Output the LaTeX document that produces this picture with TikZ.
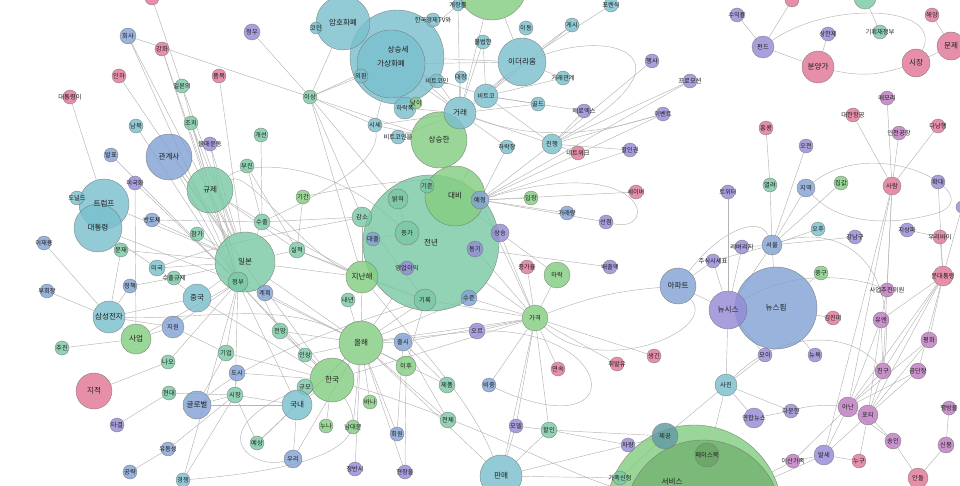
\documentclass[tikz,border=0pt]{standalone}
\usepackage{fontspec}
\newfontfamily\kfont{Noto Sans CJK KR}
\pgfdeclarelayer{background}
\pgfdeclarelayer{labels}
\pgfsetlayers{background,main,labels}
\definecolor{cteal}{RGB}{122,192,205}
\definecolor{cgreen}{RGB}{132,205,128}
\definecolor{csea}{RGB}{122,200,165}
\definecolor{cblue}{RGB}{130,162,212}
\definecolor{cpurple}{RGB}{150,138,214}
\definecolor{cpink}{RGB}{226,118,150}
\definecolor{corchid}{RGB}{190,122,192}
\definecolor{cedge}{RGB}{180,180,180}
\tikzset{
  nd/.style={circle, draw=black!55, line width=0.35pt, fill opacity=0.82, draw opacity=0.9, inner sep=0pt},
  ed/.style={draw=cedge, line width=0.45pt},
  txt/.style={inner sep=0pt, text=black!88}
}
\newcommand{\smallf}{\kfont\fontsize{6.3}{7}\selectfont}
\newcommand{\bigf}{\kfont\fontsize{7.6}{8}\selectfont}
\newcommand{\ND}[6]{%
  \ifnum#4>13\relax\def\myfs{\bigf}\else\def\myfs{\smallf}\fi
  \node[nd, fill=#5, minimum size=2*#4pt] (#1) at (#2,#3) {};
  \begin{pgfonlayer}{labels}\node[txt, font=\myfs] (#1t) at (#1) {#6};\end{pgfonlayer}}
\begin{document}
\begin{tikzpicture}[x=1pt,y=-1pt]
\useasboundingbox (0,0) rectangle (960,486);
% ---------- big nodes first
\ND{big1}{694}{513}{88}{cgreen}{}
\ND{service}{703}{518}{78}{cgreen!88!black}{}
\ND{jeonnyeon}{431}{243}{68}{csea}{전년}
\ND{daebi}{455}{196}{30}{cgreen}{대비}
\ND{sangseung}{397}{57}{47}{cteal}{}
\ND{gasang}{391}{64}{34}{cteal}{가상화폐}
\begin{pgfonlayer}{labels}\node[txt, font=\bigf] (sangseungt) at (398,50) {상승세};\end{pgfonlayer}
\ND{amho}{343}{23}{27}{cteal}{암호화폐}
\ND{topgreen}{492}{-15}{35}{cgreen}{}
\ND{newsspim}{776}{308}{41}{cblue}{뉴스핌}
\ND{newsis}{728}{310}{19}{cpurple}{뉴시스}
\ND{ilbon}{245}{262}{30}{csea}{일본}
\ND{trump}{104}{204}{25}{cteal}{트럼프}
\ND{daetong}{98}{228}{24}{cteal}{대통령}
% ---------- left
\ND{topA}{152}{-2}{7}{cpink}{}
\ND{hoesa}{128}{36}{8}{cblue}{회사}
\ND{ganghwa}{162}{49}{7}{cpink}{강화}
\ND{inha}{119}{76}{7}{cpink}{인하}
\ND{pummok}{219}{76}{7}{cpink}{품목}
\ND{daetongi}{70}{97}{7}{cpink}{대통령이}
\ND{ilbonui}{182}{86}{7}{csea}{일본의}
\ND{jochi}{191}{123}{7}{csea}{조치}
\ND{bulmae}{210}{144}{7}{cpurple}{불매운동}
\ND{nambuk}{136}{126}{7}{cteal}{남북}
\ND{gwangye}{169}{157}{23}{cblue}{관계사}
\ND{balpyo}{111}{155}{7}{cblue}{발표}
\ND{gyuje}{210}{190}{23}{csea}{규제}
\ND{migukhwa}{135}{183}{7}{cpurple}{미국화}
\ND{donald}{77}{198}{7}{cteal}{도널드}
\ND{bando}{152}{220}{7}{cblue}{반도체}
\ND{chamga}{197}{234}{7}{csea}{참가}
\ND{ijy}{44}{243}{7}{cblue}{이재용}
\ND{munjae}{121}{250}{7}{csea}{문재}
\ND{miguk}{157}{268}{8}{cteal}{미국}
\ND{suchulgj}{174}{278}{7}{csea}{수출규제}
\ND{buhoe}{47}{291}{7}{cblue}{부회장}
\ND{jeongchaek}{130}{286}{7}{cblue}{정책}
\ND{jungguk}{197}{298}{14}{cteal}{중국}
\ND{samsung}{109}{317}{16}{cteal}{삼성전자}
\ND{jiwon}{173}{327}{11}{cblue}{지원}
\ND{saeop}{136}{339}{15}{cgreen}{사업}
\ND{chujin}{62}{348}{7}{csea}{추진}
\ND{gieop}{226}{353}{8}{csea}{기업}
\ND{nao}{168}{362}{7}{csea}{나오}
\ND{dosi}{237}{373}{8}{cblue}{도시}
\ND{jijeok}{94}{391}{18}{cpink}{지적}
\ND{hyundai}{169}{393}{7}{csea}{현대}
\ND{sijang}{235}{395}{8}{csea}{시장}
\ND{global}{197}{405}{14}{cblue}{글로벌}
\ND{tagyeol}{117}{425}{7}{cpurple}{타결}
\ND{yudong}{168}{449}{7}{cblue}{유동성}
\ND{gongryak}{130}{472}{7}{cblue}{공략}
\ND{gyeongjaeng}{183}{480}{7}{cteal}{경쟁}
% ---------- Japan / center-left
\ND{jeongbu}{238}{282}{10}{csea}{정부}
\ND{gyehoek}{265}{293}{8}{cblue}{계획}
\ND{siljeok}{297}{250}{8}{csea}{실적}
\ND{suchul}{262}{222}{8}{csea}{수출}
\ND{gigan}{303}{197}{7}{cgreen}{기간}
\ND{gaeseon}{261}{135}{7}{csea}{개선}
\ND{bujin}{247}{166}{7}{csea}{부진}
\ND{jeonmang}{280}{331}{8}{csea}{전망}
\ND{insang}{305}{355}{7}{csea}{인상}
\ND{hanguk}{332}{380}{22}{cgreen}{한국}
\ND{olhae}{361}{343}{22}{cgreen}{올해}
\ND{gyumo}{305}{387}{8}{csea}{규모}
\ND{guknae}{297}{405}{15}{cteal}{국내}
\ND{yesang}{257}{443}{7}{csea}{예상}
\ND{uri}{293}{459}{9}{cblue}{우리}
\ND{nuna}{326}{426}{7}{cgreen}{누나}
\ND{namdae}{353}{427}{7}{cgreen}{남대문}
\ND{bana}{370}{402}{7}{cgreen}{바나}
\ND{hoewon}{397}{434}{7}{cblue}{회원}
\ND{jeongban}{355}{469}{7}{cpurple}{정반시}
\ND{hyeonjang}{405}{472}{7}{cpurple}{현장을}
\ND{jepum}{447}{385}{8}{csea}{제품}
\ND{jeonche}{448}{420}{8}{csea}{전체}
\ND{chulsi}{403}{342}{9}{cblue}{출시}
\ND{ihu}{406}{366}{10}{cgreen}{이후}
\ND{naenyeon}{348}{300}{7}{csea}{내년}
\ND{jinan}{362}{277}{16}{cgreen}{지난해}
% ---------- crypto
\ND{cheongu}{252}{32}{8}{cpurple}{청우}
\ND{coin}{316}{28}{6}{cteal}{코인}
\ND{hkTV}{433}{20}{7}{cteal}{한국경제TV와}
\ND{gyejang}{458}{5}{6}{cteal}{계장률}
\ND{oehwan}{361}{76}{7}{cteal}{외환}
\ND{btcoin}{437}{81}{7}{cteal}{비트코인}
\ND{daejang}{461}{77}{6}{cteal}{대장}
\ND{isang}{310}{97}{7}{csea}{이상}
\ND{harakpok}{405}{108}{11}{cteal}{하락폭}
\ND{nachi}{416}{103}{6}{cgreen}{낮이}
\ND{sangseunghan}{439}{140}{28}{cgreen}{상승한}
\ND{georae}{460}{113}{16}{cteal}{거래}
\ND{sise}{375}{125}{7}{cteal}{시세}
\ND{btceul}{398}{137}{7}{cteal}{비트코인을}
\ND{bulbeop}{483}{42}{7}{cteal}{불법한}
\ND{idong}{526}{28}{7}{cteal}{이동}
\ND{gesi}{572}{25}{7}{cteal}{게시}
\ND{poren}{611}{5}{7}{cteal}{포렌식}
\ND{ether}{522}{62}{24}{cteal}{이더리움}
\ND{georaegw}{563}{78}{7}{cteal}{거래관계}
\ND{bitco}{486}{96}{12}{cteal}{비트코}
\ND{gold}{538}{104}{7}{cteal}{골드}
\ND{zerox}{584}{111}{7}{cpurple}{제로엑스}
\ND{haengsa}{652}{61}{7}{cpurple}{행사}
\ND{promo}{690}{81}{7}{cpurple}{프로모션}
\ND{event}{663}{114}{7}{cpurple}{이벤트}
\ND{harakjang}{507}{147}{7}{cteal}{하락장}
\ND{jinhaeng}{552}{144}{10}{cteal}{진행}
\ND{network}{578}{153}{7}{cpink}{네트워크}
\ND{halingwon}{630}{150}{7}{cpurple}{할인권}
\ND{saver}{636}{192}{7}{cpink}{세이버}
\ND{ipjang}{531}{198}{7}{cgreen}{입장}
\ND{georaeryang}{567}{213}{7}{cblue}{거래량}
\ND{seonjeom}{606}{222}{7}{cpurple}{선점}
% ---------- center
\ND{gijun}{427}{186}{7}{csea}{기준}
\ND{balkhyeo}{398}{199}{10}{csea}{밝혀}
\ND{yejeong}{480}{200}{9}{cblue}{예정}
\ND{gamso}{362}{217}{10}{csea}{감소}
\ND{daechul}{373}{239}{7}{cblue}{대출}
\ND{jeungga}{407}{233}{12}{csea}{증가}
\ND{sangseung2}{500}{233}{9}{cpurple}{상승}
\ND{donggi}{475}{249}{8}{cpurple}{동기}
\ND{yeongeop}{407}{268}{7}{cpurple}{영업이익}
\ND{jeunggayul}{527}{267}{7}{cpink}{증가율}
\ND{harak}{557}{275}{13}{cgreen}{하락}
\ND{girok}{425}{300}{11}{csea}{기록}
\ND{sujun}{469}{298}{8}{cblue}{수준}
\ND{oreu}{477}{331}{8}{cpurple}{오르}
\ND{gagyeok}{535}{318}{13}{cgreen}{가격}
\ND{baechul}{610}{267}{7}{cpurple}{배출액}
\ND{apt}{678}{286}{18}{cblue}{아파트}
\ND{hwibal}{617}{364}{7}{cpink}{휘발유}
\ND{saenggin}{654}{356}{7}{cpink}{생긴}
\ND{yeonsok}{558}{369}{7}{cpink}{연속}
\ND{bijung}{489}{385}{7}{cblue}{비중}
\ND{model}{516}{426}{7}{cpurple}{모델}
\ND{halin}{549}{430}{8}{csea}{할인}
\ND{panmae}{501}{476}{21}{cteal}{판매}
\ND{jegong}{665}{436}{13}{cteal!80!black}{제공}
\ND{facebook}{707}{455}{12}{cgreen!80!black}{페이스북}
\ND{chaRyang}{628}{445}{7}{cpurple}{차량}
\ND{gajok}{620}{478}{7}{csea}{가족신청}
\begin{pgfonlayer}{labels}\node[txt, font=\bigf] (svclabel) at (672,482) {서비스};\end{pgfonlayer}
% ---------- right
\ND{topPink2}{792}{0}{7}{cpink}{}
\ND{topGreen2}{865}{-2}{11}{csea}{}
\ND{suikryul}{737}{15}{7}{cpurple}{수익률}
\ND{haeyang}{932}{15}{7}{cpink}{해양}
\ND{fund}{763}{47}{11}{cpurple}{펀드}
\ND{sanghan}{828}{34}{7}{cpurple}{상한제}
\ND{gihoek}{880}{32}{7}{csea}{기획재정부}
\ND{bunyang}{818}{67}{16}{cpink}{분양가}
\ND{sijang2}{916}{63}{14}{cpink}{시장}
\ND{munje}{951}{46}{14}{cpink}{문제}
\ND{memori}{887}{98}{7}{corchid}{메모리}
\ND{daehan}{853}{115}{7}{cpink}{대한항공}
\ND{hongkong}{766}{128}{7}{cpink}{홍콩}
\ND{incheon}{899}{133}{7}{corchid}{인천공항}
\ND{danang}{938}{126}{7}{cpink}{다낭행}
\ND{ojeon}{806}{146}{7}{cpurple}{오전}
\ND{hwakdae}{938}{182}{7}{cpurple}{확대}
\ND{yeollyeo}{770}{185}{7}{csea}{열려}
\ND{jiyeok}{806}{188}{9}{cblue}{지역}
\ND{jipgap}{841}{183}{7}{cgreen}{집값}
\ND{saram}{892}{186}{9}{cpink}{사람}
\ND{twitter}{728}{192}{7}{cpurple}{트위터}
\ND{ohu}{818}{229}{7}{cteal}{오후}
\ND{gangnam}{855}{237}{7}{cpurple}{강남구}
\ND{jisangpa}{907}{230}{7}{cpurple}{지상파}
\ND{uribai}{940}{237}{7}{cpink}{우리바이}
\ND{rightP}{962}{207}{6}{cpurple}{}
\ND{seoul}{772}{245}{10}{cblue}{서울}
\ND{leverage}{742}{247}{7}{cpurple}{레버리지}
\ND{jusik}{713}{261}{7}{cpurple}{주식시세표}
\ND{junggu}{821}{273}{7}{cgreen}{중구}
\ND{saeopchu}{887}{290}{7}{corchid}{사업추진위원}
\ND{munpres}{943}{276}{10}{cpink}{문대통령}
\ND{gimjin}{833}{318}{7}{cpink}{김진미}
\ND{un}{881}{320}{8}{corchid}{유엔}
\ND{pyeonghwa}{929}{340}{8}{corchid}{평화}
\ND{moi}{765}{355}{7}{cpurple}{모이}
\ND{newyork}{815}{355}{7}{cpurple}{뉴욕}
\ND{chingu}{883}{371}{8}{corchid}{친구}
\ND{gongdan}{918}{371}{8}{corchid}{공단장}
\ND{sajin}{726}{385}{11}{cteal}{사진}
\ND{anan}{848}{407}{10}{corchid}{아난}
\ND{poti}{868}{415}{10}{corchid}{포티}
\ND{daun}{791}{411}{7}{cpurple}{다운한}
\ND{yeonhap}{754}{418}{10}{cpurple}{연합뉴스}
\ND{songin}{893}{441}{8}{corchid}{송인}
\ND{sinbong}{946}{445}{8}{corchid}{신봉}
\ND{haengbang}{949}{408}{7}{corchid}{행방불}
\ND{isan}{793}{461}{7}{corchid}{이산가족}
\ND{balse}{824}{455}{10}{cpurple}{발세}
\ND{nugu}{859}{461}{7}{cpink}{누구}
\ND{andol}{918}{478}{10}{cpink}{안돌}
% ---------- edges
\begin{pgfonlayer}{background}
\foreach \a/\b in {hoesa/jeongbu, hoesa/ilbon, ganghwa/jeongbu, ganghwa/gyuje, topA/ilbonui, inha/ilbon, pummok/ilbon, daetongi/trump, ilbonui/ilbon, ilbonui/gyuje, jochi/ilbon, jochi/jeongbu, bulmae/ilbon, bulmae/jeongbu, nambuk/jeongbu, gwangye/ilbon, gwangye/jeongbu, gwangye/gyehoek, balpyo/jeongbu, gyuje/ilbon, gyuje/jeongbu, gyuje/suchul, gyuje/siljeok, migukhwa/saeop, migukhwa/jeongbu, donald/trump, trump/daetong, trump/ilbon, daetong/miguk, daetong/munjae, daetong/jeongbu, bando/suchul, bando/ilbon, chamga/ilbon, ijy/samsung, munjae/samsung, munjae/ilbon, buhoe/samsung, jeongchaek/suchulgj, jeongchaek/samsung, miguk/ilbon, miguk/jungguk, suchulgj/ilbon, jungguk/ilbon, jungguk/hanguk, jungguk/samsung, samsung/saeop, samsung/jiwon, jiwon/saeop, jiwon/jeongbu, jiwon/gieop, saeop/chujin, saeop/jeongbu, gieop/jeongbu, gieop/global, gieop/hanguk, nao/jijeok, nao/jeongbu, dosi/hanguk, dosi/sijang, hyundai/sijang, hyundai/tagyeol, sijang/global, sijang/guknae, sijang/jeongbu, global/guknae, yudong/sijang, yudong/gongryak, gyeongjaeng/sijang, gyeongjaeng/jeongbu,
ilbon/suchul, ilbon/siljeok, ilbon/gyehoek, ilbon/jeonmang, ilbon/hanguk, ilbon/olhae, ilbon/jinan, jeongbu/hanguk, jeongbu/olhae, jeongbu/guknae, jeongbu/insang, gigan/siljeok, gaeseon/suchul, bujin/suchul, bujin/siljeok, suchul/gamso, suchul/jinan, siljeok/jinan, siljeok/girok, gyehoek/olhae, jeonmang/olhae, jeonmang/hanguk, insang/olhae, gyumo/hanguk, guknae/hanguk, guknae/olhae, guknae/uri, guknae/yesang, yesang/sijang, nuna/hanguk, namdae/olhae, bana/olhae, hoewon/olhae, hoewon/chulsi, jeongban/olhae, hyeonjang/olhae, hyeonjang/ihu, jepum/chulsi, jepum/olhae, jeonche/olhae, jeonche/chulsi, chulsi/olhae, ihu/olhae, ihu/girok, naenyeon/olhae, jinan/olhae, jinan/jeonnyeon, jinan/girok, olhae/girok, olhae/jeonnyeon, olhae/gagyeok, hanguk/gagyeok, olhae/sujun, chulsi/gagyeok, uri/olhae, yesang/olhae,
cheongu/isang, isang/amho, isang/sangseung, isang/gasang, isang/sise, isang/jinan, isang/gamso, isang/sangseunghan, isang/jeonnyeon, coin/amho, amho/gasang, gasang/oehwan, gasang/btcoin, gasang/harakpok, gasang/sise, gasang/georae, gasang/ether, gasang/bitco, sangseung/hkTV, sangseung/georae, sangseung/ether, gyejang/sangseung, gyejang/georae, topgreen/georae, topgreen/ether, btcoin/georae, daejang/georae, harakpok/georae, sise/georae, btceul/georae, btceul/sangseunghan, georae/bitco, georae/ether, georae/sangseunghan, georae/gold, georae/jinhaeng, georae/harakjang, bulbeop/georae, bulbeop/bitco, idong/ether, gesi/ether, poren/ether, ether/georaegw, ether/bitco, bitco/gold, bitco/zerox, bitco/jinhaeng, bitco/georaegw, bitco/gesi, jinhaeng/haengsa, jinhaeng/promo, jinhaeng/event, jinhaeng/zerox, jinhaeng/network, jinhaeng/halingwon, jinhaeng/yejeong, harakjang/yejeong, yejeong/ipjang, yejeong/saver, yejeong/georaeryang, yejeong/seonjeom, yejeong/halingwon, yejeong/event, yejeong/promo, sangseunghan/daebi, daebi/jeonnyeon, daebi/sangseung2, sise/sangseunghan, isang/hoesa,
gamso/jinan, daechul/jeungga, gamso/girok, balkhyeo/jeungga, sangseung2/gagyeok, jeunggayul/gagyeok, harak/gagyeok, girok/gagyeok, sujun/gagyeok, oreu/gagyeok, oreu/olhae, gagyeok/hwibal, gagyeok/saenggin, gagyeok/yeonsok, gagyeok/halin, gagyeok/panmae, gagyeok/model, gagyeok/bijung, halin/model, halin/chaRyang, halin/panmae, halin/jegong, panmae/model, panmae/olhae, panmae/chaRyang, chaRyang/jegong, jegong/sajin, jegong/facebook, gajok/panmae, gajok/jegong, baechul/jeonnyeon, yejeong/gagyeok, sangseung2/harak, gagyeok/jeonnyeon, donggi/gagyeok,
apt/newsis, apt/jusik, newsis/newsspim, newsis/jusik, newsis/leverage, newsis/twitter, newsis/moi, newsis/sajin, newsis/seoul, seoul/newsspim, seoul/leverage, seoul/yeollyeo, seoul/jiyeok, seoul/ojeon, seoul/jipgap, seoul/ohu, seoul/gangnam, seoul/jusik, hongkong/yeollyeo, newsspim/junggu, newsspim/gimjin, newsspim/newyork, newsspim/moi, sajin/yeonhap, sajin/daun, sajin/moi, sajin/big1, daun/yeonhap, saram/daehan, saram/memori, saram/incheon, saram/danang, saram/balse, saram/anan, saram/chingu, fund/suikryul, fund/bunyang, bunyang/sanghan, sijang2/munje, haeyang/munje, gihoek/topGreen2, munpres/un, munpres/pyeonghwa, munpres/chingu, munpres/anan, munpres/poti, munpres/uribai, munpres/gongdan, un/saeopchu, un/chingu, un/anan, un/poti, pyeonghwa/poti, pyeonghwa/anan, chingu/anan, chingu/poti, gongdan/anan, gongdan/poti, anan/poti, anan/isan, anan/balse, anan/songin, poti/songin, poti/balse, poti/nugu, songin/andol, sinbong/andol, haengbang/sinbong, isan/balse, balse/nugu, isan/big1, big1/balse, jisangpa/uribai, hwakdae/munpres, saeopchu/saram, rightP/munpres, topPink2/fund}
  \draw[ed] (\a) -- (\b);
\draw[ed] (gigan) .. controls (380,180) and (470,175) .. (jeonnyeon);
\draw[ed] (bitco) .. controls (560,15) and (735,40) .. (jinhaeng);
\draw[ed] (yejeong) .. controls (650,150) and (660,235) .. (seonjeom);
\draw[ed] (georae) .. controls (560,150) and (640,120) .. (event);
\draw[ed] (gagyeok) to[bend left=8] (apt);
\draw[ed] (gagyeok) .. controls (600,380) and (720,330) .. (apt);
\draw[ed] (oreu) .. controls (620,330) and (630,450) .. (bijung);
\draw[ed] (fund) .. controls (830,0) and (945,5) .. (sijang2);
\draw[ed] (bunyang) to[bend right=15] (sijang2);
\draw[ed] (jiyeok) .. controls (880,130) and (1000,200) .. (930,215) .. controls (890,225) and (840,225) .. (jiyeok);
\draw[ed] (sajin) .. controls (780,330) and (850,330) .. (chingu);
\draw[ed] (newsis) .. controls (790,270) and (850,275) .. (saeopchu);
\draw[ed] (daun) .. controls (810,405) and (830,405) .. (anan);
\draw[ed] (seoul) .. controls (830,225) and (900,250) .. (chingu);
\draw[ed] (apt) .. controls (720,230) and (760,215) .. (seoul);
\draw[ed] (gyumo) .. controls (200,430) and (250,470) .. (uri);
\draw[ed] (hanguk) .. controls (470,420) and (560,470) .. (big1);
\draw[ed] (jinan) .. controls (300,250) and (250,170) .. (gyuje);
\draw[ed] (suchul) .. controls (330,190) and (380,160) .. (sise);
\draw[ed] (gamso) .. controls (300,230) and (230,240) .. (miguk);
\draw[ed] (jeungga) .. controls (330,160) and (250,160) .. (gyuje);
\draw[ed] (olhae) .. controls (280,300) and (200,320) .. (samsung);
\draw[ed] (girok) .. controls (330,330) and (250,360) .. (global);
\draw[ed] (jinan) .. controls (430,360) and (470,400) .. (panmae);
\draw[ed] (hanguk) .. controls (380,450) and (300,470) .. (gyeongjaeng);
\end{pgfonlayer}
\end{tikzpicture}
\end{document}
